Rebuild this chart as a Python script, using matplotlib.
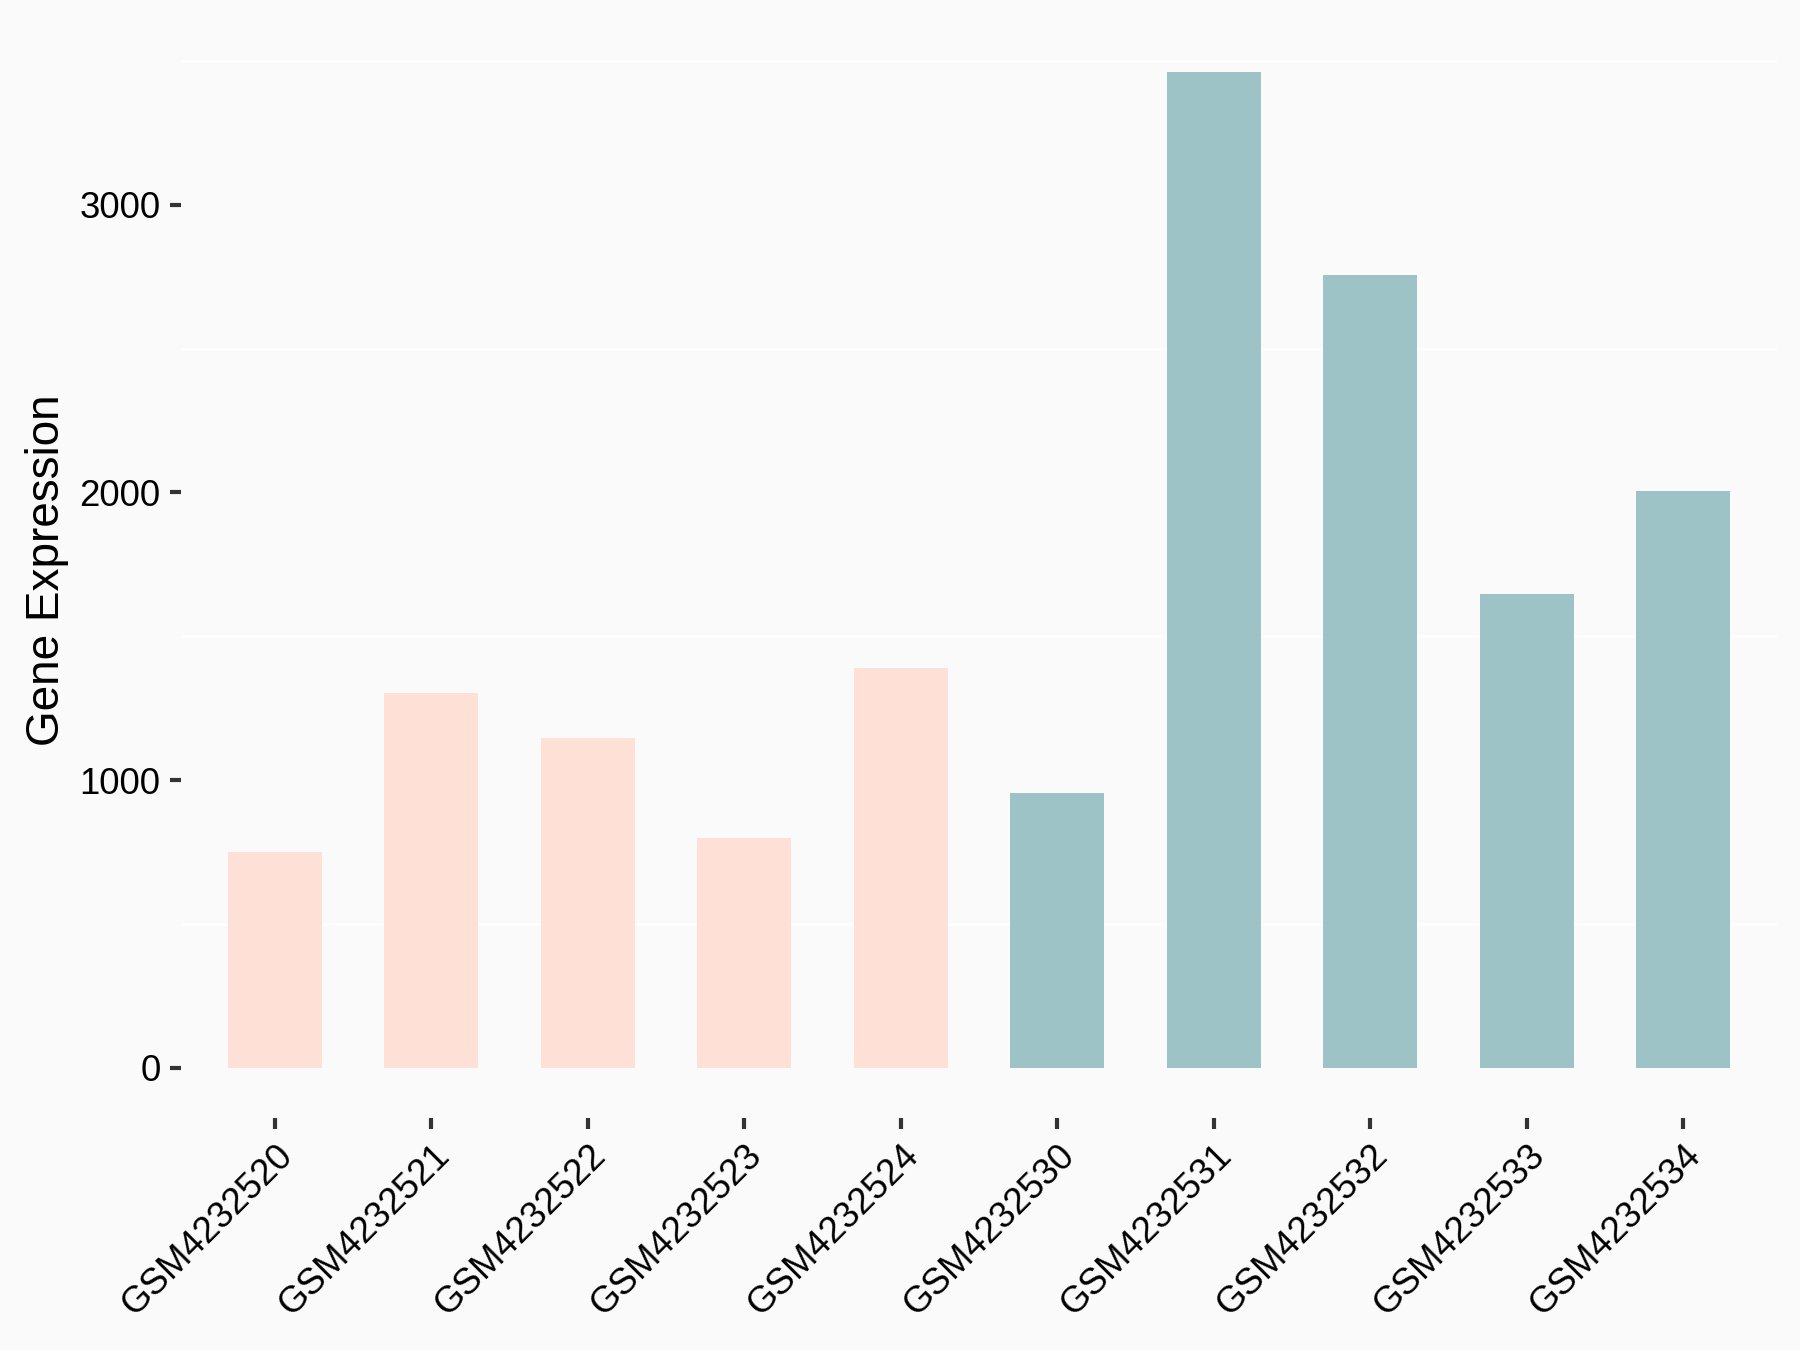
import numpy as np
import matplotlib.pyplot as plt
from matplotlib.ticker import MultipleLocator

samples = ["GSM4232520", "GSM4232521", "GSM4232522", "GSM4232523", "GSM4232524",
           "GSM4232530", "GSM4232531", "GSM4232532", "GSM4232533", "GSM4232534"]
expression = [750, 1304, 1146, 798, 1391, 955, 3462, 2756, 1647, 2004]
groups = ["A", "A", "A", "A", "A", "B", "B", "B", "B", "B"]
group_colors = {"A": "#FEE0D6", "B": "#9DC3C7"}

plt.rcParams.update({
    "font.family": ["Liberation Sans", "DejaVu Sans"],
})

bg = "#FAFAFA"
fig = plt.figure(figsize=(6, 4.5), dpi=300, facecolor=bg)
ax = fig.add_axes([0.1006, 0.1722, 0.8866, 0.8115])
ax.set_facecolor(bg)

x = np.arange(len(samples))
ax.bar(x, expression, width=0.6, color=[group_colors[g] for g in groups], zorder=2)

ax.set_xlim(-0.6, len(samples) - 0.4)
ax.set_ylim(-173, 3635)

# only minor grid lines, white
ax.yaxis.set_major_locator(MultipleLocator(1000))
ax.yaxis.set_minor_locator(MultipleLocator(500))
ax.grid(False)
for yv in [500, 1500, 2500, 3500]:
    ax.axhline(yv, color="white", lw=0.6, zorder=1)
ax.tick_params(axis="y", which="minor", length=0)

for s in ax.spines.values():
    s.set_visible(False)

ax.tick_params(axis="both", which="major", length=2.75, width=1.0, color="#333333",
               labelsize=8.8, labelcolor="black", pad=2.2)

ax.set_xticks(x)
ax.set_xticklabels(samples, rotation=45, ha="right", va="top", rotation_mode="anchor")

ax.set_ylabel("Gene Expression", fontsize=11, color="black", labelpad=2.5)

fig.savefig("out.png", dpi=300, facecolor=bg)
